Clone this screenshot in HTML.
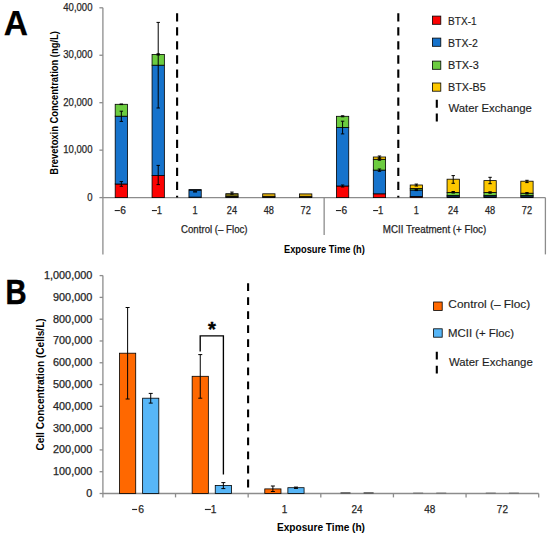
<!DOCTYPE html>
<html><head><meta charset="utf-8"><style>
html,body{margin:0;padding:0;background:#fff;}
svg{display:block;font-family:"Liberation Sans", sans-serif;}
</style></head><body>
<svg width="550" height="537" viewBox="0 0 550 537" shape-rendering="geometricPrecision">
<rect width="550" height="537" fill="#fff"/>
<text x="3.66" y="34.60" font-size="34.884" font-weight="bold" fill="#000" stroke="#000" stroke-width="0.25" textLength="24.22" lengthAdjust="spacingAndGlyphs">A</text>
<line x1="102.9" y1="7.8" x2="102.9" y2="254.4" stroke="#8c8c8c" stroke-width="1.3" />
<line x1="99.4" y1="197.6" x2="102.9" y2="197.6" stroke="#8c8c8c" stroke-width="1.3" />
<text x="87.16" y="200.65" font-size="10.458" font-weight="normal" fill="#262626" stroke="#262626" stroke-width="0.25" textLength="5.31" lengthAdjust="spacingAndGlyphs">0</text>
<line x1="99.4" y1="150.15" x2="102.9" y2="150.15" stroke="#8c8c8c" stroke-width="1.3" />
<text x="63.28" y="153.20" font-size="10.458" font-weight="normal" fill="#262626" stroke="#262626" stroke-width="0.25" textLength="29.20" lengthAdjust="spacingAndGlyphs">10,000</text>
<line x1="99.4" y1="102.7" x2="102.9" y2="102.7" stroke="#8c8c8c" stroke-width="1.3" />
<text x="63.28" y="105.75" font-size="10.458" font-weight="normal" fill="#262626" stroke="#262626" stroke-width="0.25" textLength="29.20" lengthAdjust="spacingAndGlyphs">20,000</text>
<line x1="99.4" y1="55.25" x2="102.9" y2="55.25" stroke="#8c8c8c" stroke-width="1.3" />
<text x="63.28" y="58.30" font-size="10.458" font-weight="normal" fill="#262626" stroke="#262626" stroke-width="0.25" textLength="29.20" lengthAdjust="spacingAndGlyphs">30,000</text>
<line x1="99.4" y1="7.800000000000011" x2="102.9" y2="7.800000000000011" stroke="#8c8c8c" stroke-width="1.3" />
<text x="63.28" y="10.85" font-size="10.458" font-weight="normal" fill="#262626" stroke="#262626" stroke-width="0.25" textLength="29.20" lengthAdjust="spacingAndGlyphs">40,000</text>
<line x1="102.9" y1="197.6" x2="545.4" y2="197.6" stroke="#8c8c8c" stroke-width="1.3" />
<line x1="545.4" y1="197.6" x2="545.4" y2="254.4" stroke="#8c8c8c" stroke-width="1.3" />
<line x1="324.15" y1="197.6" x2="324.15" y2="235.0" stroke="#8c8c8c" stroke-width="1.3" />
<text x="192.53" y="213.50" font-size="10.458" font-weight="normal" fill="#262626" stroke="#262626" stroke-width="0.25" textLength="5.11" lengthAdjust="spacingAndGlyphs">1</text>
<text x="226.85" y="213.50" font-size="10.458" font-weight="normal" fill="#262626" stroke="#262626" stroke-width="0.25" textLength="10.23" lengthAdjust="spacingAndGlyphs">24</text>
<text x="263.72" y="213.50" font-size="10.458" font-weight="normal" fill="#262626" stroke="#262626" stroke-width="0.25" textLength="10.23" lengthAdjust="spacingAndGlyphs">48</text>
<text x="300.60" y="213.50" font-size="10.458" font-weight="normal" fill="#262626" stroke="#262626" stroke-width="0.25" textLength="10.23" lengthAdjust="spacingAndGlyphs">72</text>
<text x="413.78" y="213.50" font-size="10.458" font-weight="normal" fill="#262626" stroke="#262626" stroke-width="0.25" textLength="5.11" lengthAdjust="spacingAndGlyphs">1</text>
<text x="448.10" y="213.50" font-size="10.458" font-weight="normal" fill="#262626" stroke="#262626" stroke-width="0.25" textLength="10.23" lengthAdjust="spacingAndGlyphs">24</text>
<text x="484.97" y="213.50" font-size="10.458" font-weight="normal" fill="#262626" stroke="#262626" stroke-width="0.25" textLength="10.23" lengthAdjust="spacingAndGlyphs">48</text>
<text x="521.85" y="213.50" font-size="10.458" font-weight="normal" fill="#262626" stroke="#262626" stroke-width="0.25" textLength="10.23" lengthAdjust="spacingAndGlyphs">72</text>
<rect x="114.70" y="210.0" width="5.2" height="1.1" fill="#262626"/>
<text x="120.18" y="213.50" font-size="10.458" font-weight="normal" fill="#262626" stroke="#262626" stroke-width="0.25" textLength="5.67" lengthAdjust="spacingAndGlyphs">6</text>
<rect x="151.90" y="210.0" width="5.0" height="1.1" fill="#262626"/>
<text x="156.78" y="213.50" font-size="10.458" font-weight="normal" fill="#262626" stroke="#262626" stroke-width="0.25" textLength="5.29" lengthAdjust="spacingAndGlyphs">1</text>
<rect x="335.95" y="210.0" width="5.2" height="1.1" fill="#262626"/>
<text x="341.43" y="213.50" font-size="10.458" font-weight="normal" fill="#262626" stroke="#262626" stroke-width="0.25" textLength="5.67" lengthAdjust="spacingAndGlyphs">6</text>
<rect x="373.15" y="210.0" width="5.0" height="1.1" fill="#262626"/>
<text x="378.03" y="213.50" font-size="10.458" font-weight="normal" fill="#262626" stroke="#262626" stroke-width="0.25" textLength="5.29" lengthAdjust="spacingAndGlyphs">1</text>
<text x="181.01" y="232.90" font-size="10.320" font-weight="normal" fill="#262626" stroke="#262626" stroke-width="0.25" textLength="66.59" lengthAdjust="spacingAndGlyphs">Control (– Floc)</text>
<text x="382.80" y="232.90" font-size="10.320" font-weight="normal" fill="#262626" stroke="#262626" stroke-width="0.25" textLength="103.41" lengthAdjust="spacingAndGlyphs">MCII Treatment (+ Floc)</text>
<text x="283.98" y="253.40" font-size="10.029" font-weight="bold" fill="#000" textLength="80.78" lengthAdjust="spacingAndGlyphs">Exposure Time (h)</text>
<text transform="rotate(-90)" x="-174.63" y="57.80" font-size="10.029" font-weight="bold" fill="#000" textLength="143.60" lengthAdjust="spacingAndGlyphs">Brevetoxin Concentration (ng/L)</text>
<line x1="177.1" y1="13.2" x2="177.1" y2="197.6" stroke="#000" stroke-width="2.1" stroke-dasharray="8.3 5.75"/>
<line x1="398.3" y1="13.2" x2="398.3" y2="197.6" stroke="#000" stroke-width="2.1" stroke-dasharray="8.3 5.75"/>
<rect x="115.19" y="184.00" width="12.30" height="13.60" fill="#fc0202" stroke="#000" stroke-width="0.8"/>
<rect x="115.19" y="116.20" width="12.30" height="67.80" fill="#1673cc" stroke="#000" stroke-width="0.8"/>
<rect x="115.19" y="104.30" width="12.30" height="11.90" fill="#6ccc40" stroke="#000" stroke-width="0.8"/>
<path d="M119.64 181.60H123.04M121.34 181.60V186.30M119.64 186.30H123.04" stroke="#000" stroke-width="1.0" fill="none"/>
<path d="M119.64 111.20H123.04M121.34 111.20V121.40M119.64 121.40H123.04" stroke="#000" stroke-width="1.0" fill="none"/>
<path d="M119.64 104.00H123.04M121.34 104.00V104.60M119.64 104.60H123.04" stroke="#000" stroke-width="1.0" fill="none"/>
<rect x="152.06" y="175.60" width="12.30" height="22.00" fill="#fc0202" stroke="#000" stroke-width="0.8"/>
<rect x="152.06" y="65.20" width="12.30" height="110.40" fill="#1673cc" stroke="#000" stroke-width="0.8"/>
<rect x="152.06" y="54.40" width="12.30" height="10.80" fill="#6ccc40" stroke="#000" stroke-width="0.8"/>
<path d="M156.51 165.40H159.91M158.21 165.40V184.60M156.51 184.60H159.91" stroke="#000" stroke-width="1.0" fill="none"/>
<path d="M156.51 22.40H159.91M158.21 22.40V108.00M156.51 108.00H159.91" stroke="#000" stroke-width="1.0" fill="none"/>
<path d="M156.51 53.80H159.91M158.21 53.80V55.00M156.51 55.00H159.91" stroke="#000" stroke-width="1.0" fill="none"/>
<rect x="188.94" y="189.60" width="12.30" height="8.00" fill="#1673cc" stroke="#000" stroke-width="0.8"/>
<rect x="188.94" y="189.6" width="12.3" height="1.3" fill="#000" fill-opacity="0.85"/>
<rect x="193.09" y="190.8" width="4" height="1.8" fill="#000" fill-opacity="0.85"/>
<line x1="188.94" y1="197" x2="201.24" y2="197" stroke="#000" stroke-opacity="0.6" stroke-width="1"/>
<rect x="225.81" y="196.60" width="12.30" height="1.00" fill="#222" stroke="#000" stroke-width="0.8"/>
<rect x="225.81" y="193.70" width="12.30" height="2.90" fill="#6f6614" stroke="#000" stroke-width="0.8"/>
<path d="M230.26 192.10H233.66M231.96 192.10V194.20M230.26 194.20H233.66" stroke="#000" stroke-width="1.0" fill="none"/>
<rect x="262.69" y="196.60" width="12.30" height="1.00" fill="#222" stroke="#000" stroke-width="0.8"/>
<rect x="262.69" y="193.80" width="12.30" height="2.80" fill="#d9a90c" stroke="#000" stroke-width="0.8"/>
<rect x="299.56" y="196.60" width="12.30" height="1.00" fill="#222" stroke="#000" stroke-width="0.8"/>
<rect x="299.56" y="193.90" width="12.30" height="2.70" fill="#d9a90c" stroke="#000" stroke-width="0.8"/>
<rect x="336.44" y="186.00" width="12.30" height="11.60" fill="#fc0202" stroke="#000" stroke-width="0.8"/>
<rect x="336.44" y="127.50" width="12.30" height="58.50" fill="#1673cc" stroke="#000" stroke-width="0.8"/>
<rect x="336.44" y="116.30" width="12.30" height="11.20" fill="#6ccc40" stroke="#000" stroke-width="0.8"/>
<path d="M340.89 185.00H344.29M342.59 185.00V187.00M340.89 187.00H344.29" stroke="#000" stroke-width="1.0" fill="none"/>
<path d="M340.89 121.20H344.29M342.59 121.20V133.90M340.89 133.90H344.29" stroke="#000" stroke-width="1.0" fill="none"/>
<path d="M340.89 115.80H344.29M342.59 115.80V116.80M340.89 116.80H344.29" stroke="#000" stroke-width="1.0" fill="none"/>
<rect x="373.31" y="193.80" width="12.30" height="3.80" fill="#fc0202" stroke="#000" stroke-width="0.8"/>
<rect x="373.31" y="170.10" width="12.30" height="23.70" fill="#1673cc" stroke="#000" stroke-width="0.8"/>
<rect x="373.31" y="159.30" width="12.30" height="10.80" fill="#6ccc40" stroke="#000" stroke-width="0.8"/>
<rect x="373.31" y="157.00" width="12.30" height="2.30" fill="#fdc800" stroke="#000" stroke-width="0.8"/>
<path d="M377.76 169.00H381.16M379.46 169.00V171.30M377.76 171.30H381.16" stroke="#000" stroke-width="1.0" fill="none"/>
<path d="M377.76 158.20H381.16M379.46 158.20V160.20M377.76 160.20H381.16" stroke="#000" stroke-width="1.0" fill="none"/>
<path d="M377.76 156.00H381.16M379.46 156.00V158.00M377.76 158.00H381.16" stroke="#000" stroke-width="1.0" fill="none"/>
<rect x="410.19" y="196.40" width="12.30" height="1.20" fill="#fc0202" stroke="#000" stroke-width="0.8"/>
<rect x="410.19" y="190.00" width="12.30" height="6.40" fill="#1673cc" stroke="#000" stroke-width="0.8"/>
<rect x="410.19" y="188.50" width="12.30" height="1.50" fill="#6ccc40" stroke="#000" stroke-width="0.8"/>
<rect x="410.19" y="185.00" width="12.30" height="3.50" fill="#fdc800" stroke="#000" stroke-width="0.8"/>
<path d="M414.64 189.40H418.04M416.34 189.40V190.60M414.64 190.60H418.04" stroke="#000" stroke-width="1.0" fill="none"/>
<path d="M414.64 184.10H418.04M416.34 184.10V186.00M414.64 186.00H418.04" stroke="#000" stroke-width="1.0" fill="none"/>
<rect x="447.06" y="196.80" width="12.30" height="0.80" fill="#fc0202" stroke="#000" stroke-width="0.8"/>
<rect x="447.06" y="195.50" width="12.30" height="1.30" fill="#1673cc" stroke="#000" stroke-width="0.8"/>
<rect x="447.06" y="192.50" width="12.30" height="3.00" fill="#6ccc40" stroke="#000" stroke-width="0.8"/>
<rect x="447.06" y="179.20" width="12.30" height="13.30" fill="#fdc800" stroke="#000" stroke-width="0.8"/>
<path d="M451.51 191.50H454.91M453.21 191.50V193.00M451.51 193.00H454.91" stroke="#000" stroke-width="1.0" fill="none"/>
<path d="M451.51 175.60H454.91M453.21 175.60V183.30M451.51 183.30H454.91" stroke="#000" stroke-width="1.0" fill="none"/>
<rect x="483.94" y="196.80" width="12.30" height="0.80" fill="#fc0202" stroke="#000" stroke-width="0.8"/>
<rect x="483.94" y="195.50" width="12.30" height="1.30" fill="#1673cc" stroke="#000" stroke-width="0.8"/>
<rect x="483.94" y="192.40" width="12.30" height="3.10" fill="#6ccc40" stroke="#000" stroke-width="0.8"/>
<rect x="483.94" y="180.60" width="12.30" height="11.80" fill="#fdc800" stroke="#000" stroke-width="0.8"/>
<path d="M488.39 191.80H491.79M490.09 191.80V193.20M488.39 193.20H491.79" stroke="#000" stroke-width="1.0" fill="none"/>
<path d="M488.39 177.30H491.79M490.09 177.30V183.70M488.39 183.70H491.79" stroke="#000" stroke-width="1.0" fill="none"/>
<rect x="520.81" y="196.80" width="12.30" height="0.80" fill="#fc0202" stroke="#000" stroke-width="0.8"/>
<rect x="520.81" y="195.50" width="12.30" height="1.30" fill="#1673cc" stroke="#000" stroke-width="0.8"/>
<rect x="520.81" y="193.20" width="12.30" height="2.30" fill="#6ccc40" stroke="#000" stroke-width="0.8"/>
<rect x="520.81" y="181.20" width="12.30" height="12.00" fill="#fdc800" stroke="#000" stroke-width="0.8"/>
<path d="M525.26 192.60H528.66M526.96 192.60V194.00M525.26 194.00H528.66" stroke="#000" stroke-width="1.0" fill="none"/>
<path d="M525.26 180.30H528.66M526.96 180.30V182.60M525.26 182.60H528.66" stroke="#000" stroke-width="1.0" fill="none"/>
<rect x="432.40" y="16.10" width="8.40" height="8.20" fill="#fc0202" stroke="#000" stroke-width="0.8"/>
<text x="448.07" y="25.20" font-size="10.465" font-weight="normal" fill="#1e1e1e" stroke="#1e1e1e" stroke-width="0.15" textLength="28.62" lengthAdjust="spacingAndGlyphs">BTX-1</text>
<rect x="432.40" y="38.10" width="8.40" height="8.20" fill="#1673cc" stroke="#000" stroke-width="0.8"/>
<text x="448.04" y="47.00" font-size="10.465" font-weight="normal" fill="#1e1e1e" stroke="#1e1e1e" stroke-width="0.15" textLength="29.79" lengthAdjust="spacingAndGlyphs">BTX-2</text>
<rect x="432.40" y="61.10" width="8.40" height="8.20" fill="#6ccc40" stroke="#000" stroke-width="0.8"/>
<text x="448.01" y="69.00" font-size="10.465" font-weight="normal" fill="#1e1e1e" stroke="#1e1e1e" stroke-width="0.15" textLength="30.77" lengthAdjust="spacingAndGlyphs">BTX-3</text>
<rect x="432.40" y="83.00" width="8.40" height="8.20" fill="#fdc800" stroke="#000" stroke-width="0.8"/>
<text x="448.02" y="90.90" font-size="10.465" font-weight="normal" fill="#1e1e1e" stroke="#1e1e1e" stroke-width="0.15" textLength="37.63" lengthAdjust="spacingAndGlyphs">BTX-B5</text>
<line x1="436.8" y1="99.8" x2="436.8" y2="122" stroke="#000" stroke-width="2.1" stroke-dasharray="8 5.7"/>
<text x="448.54" y="111.60" font-size="11.337" font-weight="normal" fill="#1e1e1e" stroke="#1e1e1e" stroke-width="0.15" textLength="83.36" lengthAdjust="spacingAndGlyphs">Water Exchange</text>
<text x="5.44" y="303.90" font-size="34.448" font-weight="bold" fill="#000" stroke="#000" stroke-width="0.50" textLength="21.07" lengthAdjust="spacingAndGlyphs">B</text>
<line x1="102.9" y1="275.6" x2="102.9" y2="497.4" stroke="#8c8c8c" stroke-width="1.3" />
<line x1="102.9" y1="493.5" x2="538.7" y2="493.5" stroke="#8c8c8c" stroke-width="1.3" />
<line x1="175.53333333333336" y1="493.5" x2="175.53333333333336" y2="497.4" stroke="#8c8c8c" stroke-width="1.3" />
<line x1="248.16666666666669" y1="493.5" x2="248.16666666666669" y2="497.4" stroke="#8c8c8c" stroke-width="1.3" />
<line x1="320.80000000000007" y1="493.5" x2="320.80000000000007" y2="497.4" stroke="#8c8c8c" stroke-width="1.3" />
<line x1="393.4333333333334" y1="493.5" x2="393.4333333333334" y2="497.4" stroke="#8c8c8c" stroke-width="1.3" />
<line x1="466.0666666666667" y1="493.5" x2="466.0666666666667" y2="497.4" stroke="#8c8c8c" stroke-width="1.3" />
<line x1="538.7" y1="493.5" x2="538.7" y2="497.4" stroke="#8c8c8c" stroke-width="1.3" />
<line x1="99.6" y1="493.5" x2="102.9" y2="493.5" stroke="#8c8c8c" stroke-width="1.3" />
<text x="86.28" y="497.00" font-size="10.029" font-weight="normal" fill="#262626" stroke="#262626" stroke-width="0.25" textLength="6.04" lengthAdjust="spacingAndGlyphs">0</text>
<line x1="99.6" y1="471.71" x2="102.9" y2="471.71" stroke="#8c8c8c" stroke-width="1.3" />
<text x="53.04" y="475.21" font-size="10.029" font-weight="normal" fill="#262626" stroke="#262626" stroke-width="0.25" textLength="39.28" lengthAdjust="spacingAndGlyphs">100,000</text>
<line x1="99.6" y1="449.92" x2="102.9" y2="449.92" stroke="#8c8c8c" stroke-width="1.3" />
<text x="53.04" y="453.42" font-size="10.029" font-weight="normal" fill="#262626" stroke="#262626" stroke-width="0.25" textLength="39.28" lengthAdjust="spacingAndGlyphs">200,000</text>
<line x1="99.6" y1="428.13" x2="102.9" y2="428.13" stroke="#8c8c8c" stroke-width="1.3" />
<text x="53.04" y="431.63" font-size="10.029" font-weight="normal" fill="#262626" stroke="#262626" stroke-width="0.25" textLength="39.28" lengthAdjust="spacingAndGlyphs">300,000</text>
<line x1="99.6" y1="406.34000000000003" x2="102.9" y2="406.34000000000003" stroke="#8c8c8c" stroke-width="1.3" />
<text x="53.04" y="409.84" font-size="10.029" font-weight="normal" fill="#262626" stroke="#262626" stroke-width="0.25" textLength="39.28" lengthAdjust="spacingAndGlyphs">400,000</text>
<line x1="99.6" y1="384.55" x2="102.9" y2="384.55" stroke="#8c8c8c" stroke-width="1.3" />
<text x="53.04" y="388.05" font-size="10.029" font-weight="normal" fill="#262626" stroke="#262626" stroke-width="0.25" textLength="39.28" lengthAdjust="spacingAndGlyphs">500,000</text>
<line x1="99.6" y1="362.76" x2="102.9" y2="362.76" stroke="#8c8c8c" stroke-width="1.3" />
<text x="53.04" y="366.26" font-size="10.029" font-weight="normal" fill="#262626" stroke="#262626" stroke-width="0.25" textLength="39.28" lengthAdjust="spacingAndGlyphs">600,000</text>
<line x1="99.6" y1="340.97" x2="102.9" y2="340.97" stroke="#8c8c8c" stroke-width="1.3" />
<text x="53.04" y="344.47" font-size="10.029" font-weight="normal" fill="#262626" stroke="#262626" stroke-width="0.25" textLength="39.28" lengthAdjust="spacingAndGlyphs">700,000</text>
<line x1="99.6" y1="319.18" x2="102.9" y2="319.18" stroke="#8c8c8c" stroke-width="1.3" />
<text x="53.04" y="322.68" font-size="10.029" font-weight="normal" fill="#262626" stroke="#262626" stroke-width="0.25" textLength="39.28" lengthAdjust="spacingAndGlyphs">800,000</text>
<line x1="99.6" y1="297.39" x2="102.9" y2="297.39" stroke="#8c8c8c" stroke-width="1.3" />
<text x="53.04" y="300.89" font-size="10.029" font-weight="normal" fill="#262626" stroke="#262626" stroke-width="0.25" textLength="39.28" lengthAdjust="spacingAndGlyphs">900,000</text>
<line x1="99.6" y1="275.6" x2="102.9" y2="275.6" stroke="#8c8c8c" stroke-width="1.3" />
<text x="43.97" y="279.10" font-size="10.029" font-weight="normal" fill="#262626" stroke="#262626" stroke-width="0.25" textLength="48.35" lengthAdjust="spacingAndGlyphs">1,000,000</text>
<text x="281.70" y="512.60" font-size="10.888" font-weight="normal" fill="#262626" stroke="#262626" stroke-width="0.25" textLength="5.56" lengthAdjust="spacingAndGlyphs">1</text>
<text x="351.56" y="512.60" font-size="10.888" font-weight="normal" fill="#262626" stroke="#262626" stroke-width="0.25" textLength="11.12" lengthAdjust="spacingAndGlyphs">24</text>
<text x="424.19" y="512.60" font-size="10.888" font-weight="normal" fill="#262626" stroke="#262626" stroke-width="0.25" textLength="11.12" lengthAdjust="spacingAndGlyphs">48</text>
<text x="496.83" y="512.60" font-size="10.888" font-weight="normal" fill="#262626" stroke="#262626" stroke-width="0.25" textLength="11.12" lengthAdjust="spacingAndGlyphs">72</text>
<rect x="132.1" y="508.9" width="5.0" height="1.15" fill="#262626"/>
<text x="138.17" y="512.70" font-size="11.032" font-weight="normal" fill="#262626" stroke="#262626" stroke-width="0.25" textLength="5.79" lengthAdjust="spacingAndGlyphs">6</text>
<rect x="204.9" y="508.9" width="6.0" height="1.15" fill="#262626"/>
<text x="210.72" y="512.70" font-size="11.032" font-weight="normal" fill="#262626" stroke="#262626" stroke-width="0.25" textLength="5.68" lengthAdjust="spacingAndGlyphs">1</text>
<text x="276.92" y="531.00" font-size="11.337" font-weight="bold" fill="#000" textLength="88.08" lengthAdjust="spacingAndGlyphs">Exposure Time (h)</text>
<text transform="rotate(-90)" x="-450.61" y="44.10" font-size="10.320" font-weight="bold" fill="#000" textLength="132.32" lengthAdjust="spacingAndGlyphs">Cell Concentration (Cells/L)</text>
<line x1="248.1" y1="283.2" x2="248.1" y2="493.5" stroke="#000" stroke-width="2.1" stroke-dasharray="7.8 6.23"/>
<rect x="119.52" y="353.20" width="16.20" height="140.30" fill="#ff6800" stroke="#000" stroke-width="0.8"/>
<path d="M125.62 307.50H129.62M127.62 307.50V399.00M125.62 399.00H129.62" stroke="#000" stroke-width="1.0" fill="none"/>
<rect x="142.62" y="398.20" width="16.20" height="95.30" fill="#57b6f7" stroke="#000" stroke-width="0.8"/>
<path d="M148.72 393.40H152.72M150.72 393.40V403.10M148.72 403.10H152.72" stroke="#000" stroke-width="1.0" fill="none"/>
<rect x="192.15" y="376.30" width="16.20" height="117.20" fill="#ff6800" stroke="#000" stroke-width="0.8"/>
<path d="M198.25 354.60H202.25M200.25 354.60V398.20M198.25 398.20H202.25" stroke="#000" stroke-width="1.0" fill="none"/>
<rect x="215.25" y="485.40" width="16.20" height="8.10" fill="#57b6f7" stroke="#000" stroke-width="0.8"/>
<path d="M221.35 482.60H225.35M223.35 482.60V488.60M221.35 488.60H225.35" stroke="#000" stroke-width="1.0" fill="none"/>
<rect x="264.78" y="488.90" width="16.20" height="4.60" fill="#ff6800" stroke="#000" stroke-width="0.8"/>
<path d="M270.88 486.00H274.88M272.88 486.00V491.50M270.88 491.50H274.88" stroke="#000" stroke-width="1.0" fill="none"/>
<rect x="287.88" y="487.70" width="16.20" height="5.80" fill="#57b6f7" stroke="#000" stroke-width="0.8"/>
<path d="M293.98 487.10H297.98M295.98 487.10V488.40M293.98 488.40H297.98" stroke="#000" stroke-width="1.0" fill="none"/>
<line x1="340.52" y1="492.90" x2="350.52" y2="492.90" stroke="#000" stroke-opacity="0.8" stroke-width="1"/>
<line x1="363.62" y1="492.90" x2="373.62" y2="492.90" stroke="#000" stroke-opacity="0.8" stroke-width="1"/>
<line x1="413.15" y1="492.90" x2="423.15" y2="492.90" stroke="#000" stroke-opacity="0.35" stroke-width="1"/>
<line x1="436.25" y1="492.90" x2="446.25" y2="492.90" stroke="#000" stroke-opacity="0.35" stroke-width="1"/>
<line x1="485.78" y1="492.90" x2="495.78" y2="492.90" stroke="#000" stroke-opacity="0.35" stroke-width="1"/>
<line x1="508.88" y1="492.90" x2="518.88" y2="492.90" stroke="#000" stroke-opacity="0.35" stroke-width="1"/>
<path d="M200.2 351.4V335.8H223.4V474.5" stroke="#000" stroke-width="1.35" fill="none"/>
<text x="208.04" y="335.50" font-size="19.624" font-weight="bold" fill="#000" stroke="#000" stroke-width="0.40" textLength="7.88" lengthAdjust="spacingAndGlyphs">*</text>
<rect x="433.60" y="302.00" width="8.60" height="8.40" fill="#ff6800" stroke="#000" stroke-width="0.8"/>
<rect x="433.60" y="328.80" width="8.60" height="8.40" fill="#57b6f7" stroke="#000" stroke-width="0.8"/>
<text x="448.39" y="308.20" font-size="10.901" font-weight="normal" fill="#1e1e1e" stroke="#1e1e1e" stroke-width="0.15" textLength="81.84" lengthAdjust="spacingAndGlyphs">Control (– Floc)</text>
<text x="448.07" y="336.90" font-size="11.047" font-weight="normal" fill="#1e1e1e" stroke="#1e1e1e" stroke-width="0.15" textLength="66.03" lengthAdjust="spacingAndGlyphs">MCII (+ Floc)</text>
<line x1="436.8" y1="351.8" x2="436.8" y2="374" stroke="#000" stroke-width="2.1" stroke-dasharray="7.8 6.2"/>
<text x="448.94" y="365.60" font-size="11.628" font-weight="normal" fill="#1e1e1e" stroke="#1e1e1e" stroke-width="0.15" textLength="83.86" lengthAdjust="spacingAndGlyphs">Water Exchange</text>
</svg>
</body></html>
